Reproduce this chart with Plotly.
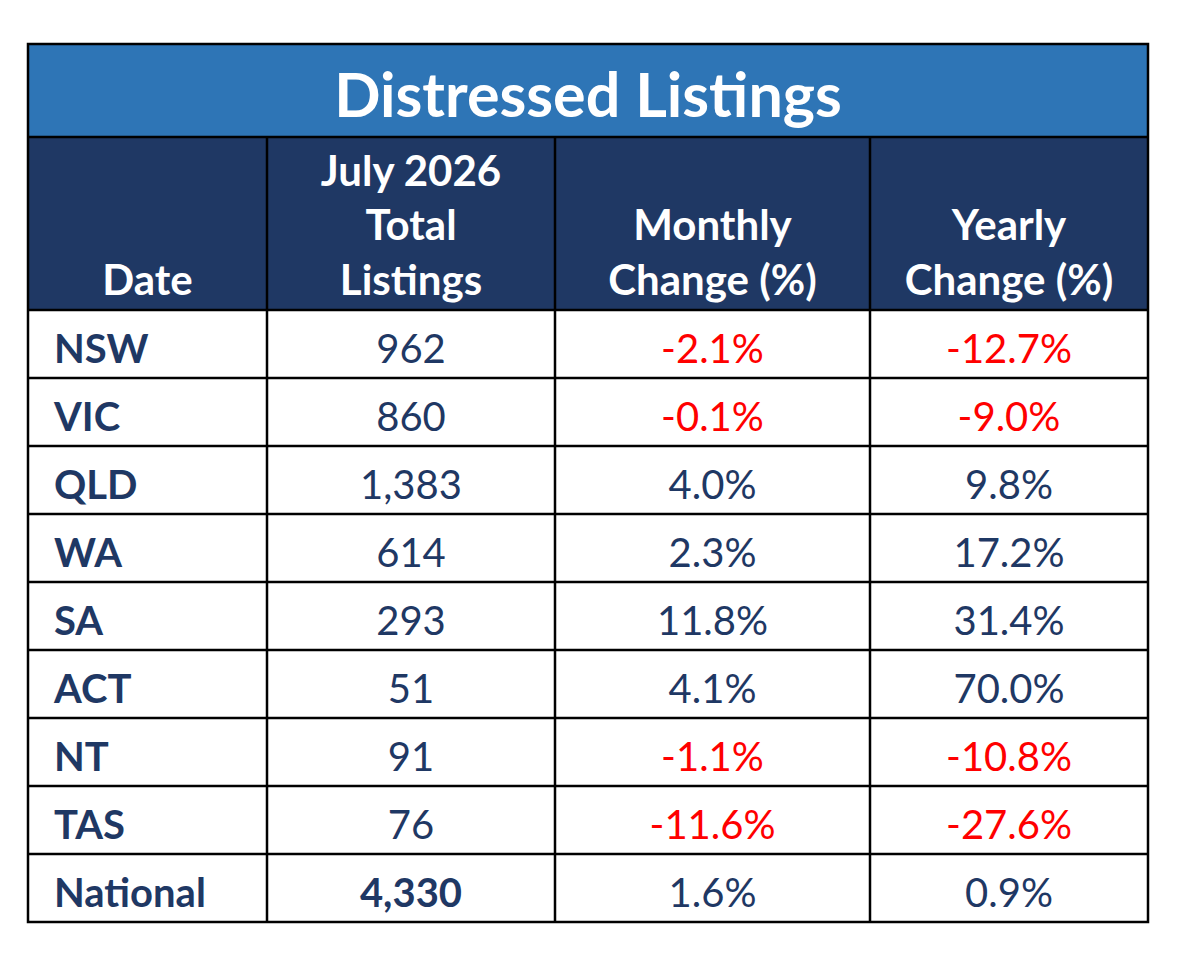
import plotly.graph_objects as go

# Table data
regions = ["NSW", "VIC", "QLD", "WA", "SA", "ACT", "NT", "TAS", "National"]
total_listings = ["962", "860", "1,383", "614", "293", "51", "91", "76", "4,330"]
monthly_change = [-2.1, -0.1, 4.0, 2.3, 11.8, 4.1, -1.1, -11.6, 1.6]
yearly_change = [-12.7, -9.0, 9.8, 17.2, 31.4, 70.0, -10.8, -27.6, 0.9]

headers = ["Date", "July 2026<br>Total<br>Listings",
           "Monthly<br>Change (%)", "Yearly<br>Change (%)"]
title = "Distressed Listings"

NAVY = "#1F3864"
BLUE = "#2E75B6"
RED = "#FF0000"
FONT = "Lato"

# table geometry (pixels)
col_widths = [239, 288, 315, 278]
title_h, header_h, row_h = 93, 173, 68
table_w = sum(col_widths)
table_h = title_h + header_h + row_h * len(regions)
pad = 5          # keeps the outer border inside the plot area
body_margin = 8  # default page margin around the plotly div


def pct(v):
    return "%.1f%%" % v


def colour(v):
    return RED if v < 0 else NAVY


col_left = [sum(col_widths[:i]) for i in range(len(col_widths))]
col_mid = [l + w / 2 for l, w in zip(col_left, col_widths)]
row_top = [title_h + header_h + i * row_h for i in range(len(regions))]
row_mid = [t + row_h / 2 + 8.5 for t in row_top]

fig = go.Figure()

# header text, sitting on the bottom of the header band
for h, x in zip(headers, col_mid):
    fig.add_trace(go.Scatter(x=[x], y=[title_h + header_h - 4.5], mode="text",
                             text=["<b>%s</b>" % h], textposition="top center",
                             textfont=dict(family=FONT, size=42, color="white"),
                             hoverinfo="skip", showlegend=False))

# first column: region names, left aligned
fig.add_trace(go.Scatter(x=[col_left[0] + 26] * len(regions), y=row_mid, mode="text",
                         text=["<b>%s</b>" % r for r in regions],
                         textposition="middle right",
                         textfont=dict(family=FONT, size=40, color=NAVY),
                         hoverinfo="skip", showlegend=False))

# value columns
total_text = [("<b>%s</b>" % t) if r == "National" else t
              for r, t in zip(regions, total_listings)]
columns = [
    (total_text, [NAVY] * len(regions)),
    ([pct(v) for v in monthly_change], [colour(v) for v in monthly_change]),
    ([pct(v) for v in yearly_change], [colour(v) for v in yearly_change]),
]
for (texts, colours), x in zip(columns, col_mid[1:]):
    fig.add_trace(go.Scatter(x=[x] * len(texts), y=row_mid, mode="text",
                             text=texts, textposition="middle center",
                             textfont=dict(family=FONT, size=40, color=colours),
                             hoverinfo="skip", showlegend=False))

# title
fig.add_trace(go.Scatter(x=[table_w / 2], y=[title_h / 2 + 11.7], mode="text",
                         text=["<b>%s</b>" % title], textposition="middle center",
                         textfont=dict(family=FONT, size=61, color="white"),
                         hoverinfo="skip", showlegend=False))

# backgrounds
shapes = [
    dict(type="rect", x0=0, x1=table_w, y0=0, y1=title_h,
         fillcolor=BLUE, line_width=0, layer="below"),
    dict(type="rect", x0=0, x1=table_w, y0=title_h, y1=title_h + header_h,
         fillcolor=NAVY, line_width=0, layer="below"),
]
# grid lines
line = dict(color="black", width=2.5)
for y in [title_h, title_h + header_h] + row_top[1:]:
    shapes.append(dict(type="line", x0=0, x1=table_w, y0=y, y1=y, line=line))
for x in col_left[1:]:
    shapes.append(dict(type="line", x0=x, x1=x, y0=title_h, y1=table_h, line=line))
shapes.append(dict(type="rect", x0=0, x1=table_w, y0=0, y1=table_h, line=line))
for s in shapes:
    s.update(xref="x", yref="y")

W, H = 1187 - body_margin, 974 - body_margin
left, top = 28 - body_margin - pad, 44 - body_margin - pad
fig.update_layout(
    width=W, height=H,
    margin=dict(l=left, t=top, r=W - left - table_w - 2 * pad,
                b=H - top - table_h - 2 * pad),
    xaxis=dict(range=[-pad, table_w + pad], visible=False, fixedrange=True),
    yaxis=dict(range=[table_h + pad, -pad], visible=False, fixedrange=True),
    paper_bgcolor="white", plot_bgcolor="white",
    shapes=shapes,
)
fig.write_html("out.html")
